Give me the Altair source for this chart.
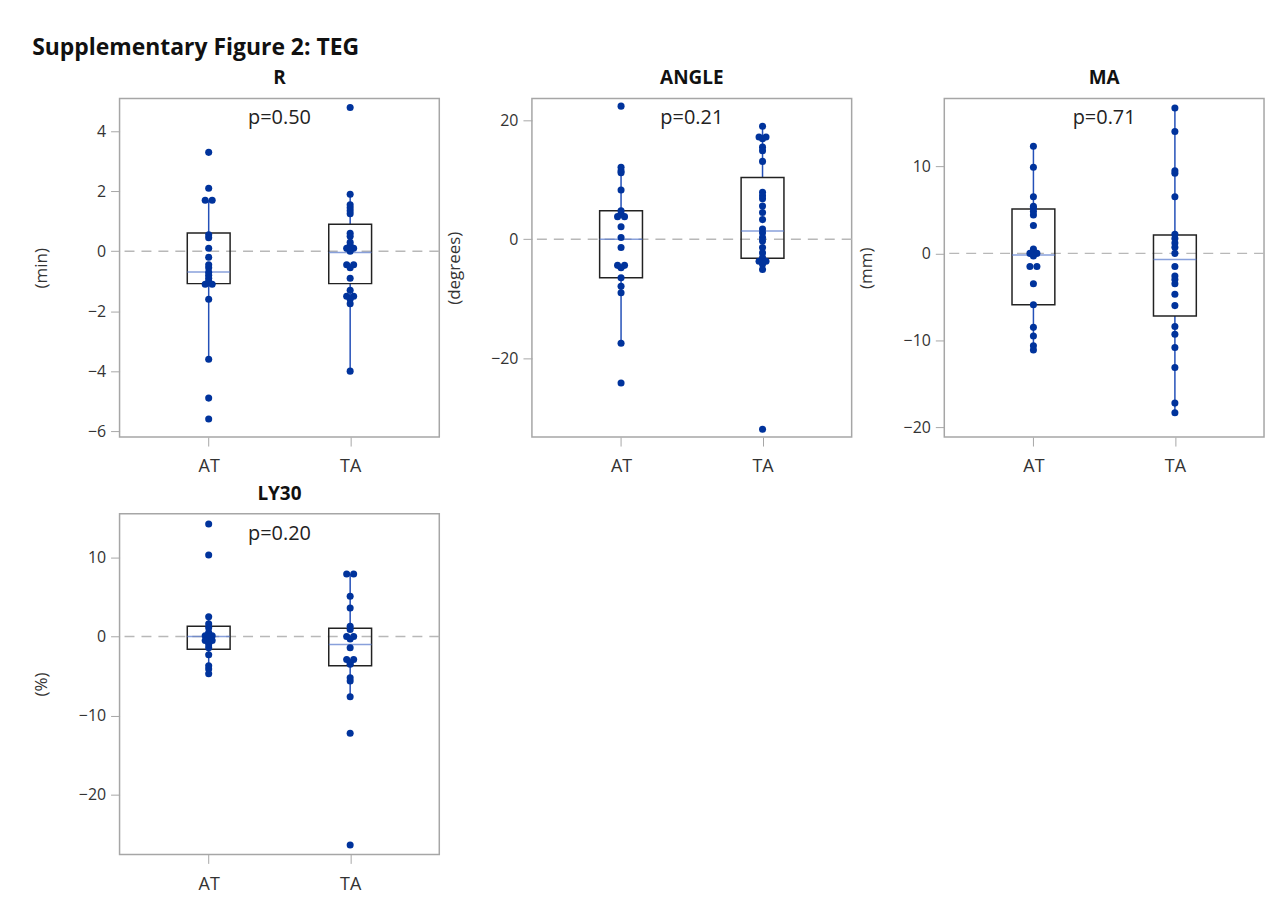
import altair as alt
import pandas as pd

groups = ["AT", "TA"]

# ---- values ----
R_AT = [3.3, 2.1, 1.7, 1.7, 0.55, 0.45, 0.1, -0.2, -0.45, -0.55, -0.7, -0.8, -0.9, -1.0, -1.05, -1.1, -1.1, -1.6, -3.6, -4.9, -5.6]
R_TA = [4.8, 1.9, 1.55, 1.45, 1.35, 1.25, 0.6, 0.5, 0.3, 0.2, 0.1, 0.1, 0.0, -0.45, -0.45, -0.55, -0.9, -1.3, -1.5, -1.5, -1.6, -1.75, -4.0]
ANGLE_AT = [22.4, 12.1, 11.5, 11.2, 8.3, 4.8, 4.2, 3.8, 3.8, 2.1, 0.3, -1.4, -4.4, -4.4, -4.8, -6.5, -7.9, -9.0, -17.5, -24.2]
ANGLE_TA = [19.0, 17.2, 17.2, 16.9, 15.5, 14.9, 13.1, 7.9, 7.3, 6.8, 5.6, 4.5, 3.3, 1.7, 1.1, 0.3, -0.3, -1.4, -2.3, -3.1, -3.7, -3.7, -4.2, -5.1, -32.0]
MA_AT = [12.3, 9.9, 6.5, 5.4, 5.2, 4.8, 4.4, 3.2, 0.5, 0.2, 0.0, 0.0, -0.3, -1.5, -1.5, -3.5, -5.9, -8.5, -9.5, -10.6, -11.1]
MA_TA = [16.7, 14.0, 9.5, 9.2, 6.5, 2.2, 1.7, 1.2, 0.7, 0.0, -1.5, -2.6, -3.0, -3.5, -4.7, -6.0, -8.4, -9.3, -10.8, -13.1, -17.2, -18.3]
LY30_AT = [14.2, 10.3, 2.5, 1.6, 1.1, 0.5, 0.3, 0.1, 0.1, -0.1, -0.3, -0.5, -0.5, -1.0, -1.4, -2.3, -3.7, -4.1, -4.7]
LY30_TA = [7.9, 7.9, 5.1, 3.6, 1.3, 0.9, 0.0, 0.0, -0.3, -1.4, -2.9, -2.9, -3.3, -3.5, -5.2, -5.6, -7.6, -12.2, -26.3]

# box statistics per group: q1, median, q3, whisker low, whisker high
R_BOX = {"AT": [-1.08, -0.69, 0.61, -3.6, 1.7], "TA": [-1.08, -0.04, 0.9, -3.94, 1.92]}
ANGLE_BOX = {"AT": [-6.5, 0.0, 4.8, -17.5, 12.1], "TA": [-3.2, 1.4, 10.4, -5.1, 19.0]}
MA_BOX = {"AT": [-5.9, -0.2, 5.1, -11.1, 12.3], "TA": [-7.2, -0.7, 2.1, -18.3, 16.7]}
LY30_BOX = {"AT": [-1.6, 0.0, 1.3, -4.7, 2.5], "TA": [-3.7, -1.0, 1.05, -7.6, 7.9]}

P_VALUES = {"R": "p=0.50", "ANGLE": "p=0.21", "MA": "p=0.71", "LY30": "p=0.20"}
UNITS = {"R": "(min)", "ANGLE": "(degrees)", "MA": "(mm)", "LY30": "(%)"}
Y_TICKS = {"R": [4, 2, 0, -2, -4, -6], "ANGLE": [20, 0, -20], "MA": [10, 0, -10, -20], "LY30": [10, 0, -10, -20]}
Y_DOMAIN = {"R": [-6.2, 5.1], "ANGLE": [-33.3, 23.7], "MA": [-21.1, 17.8], "LY30": [-27.5, 15.5]}

W = 321
FONT = "Open Sans"
PT_COLOR = "#00339c"
WHISK_COLOR = "#2450b8"
MED_COLOR = "#5577cc"


def points_frame(at, ta):
    rows = []
    for g, vals in (("AT", at), ("TA", ta)):
        counts = {}
        for v in vals:
            counts[v] = counts.get(v, 0) + 1
        seen = {}
        for v in vals:
            n = counts[v]
            k = seen.get(v, 0)
            seen[v] = k + 1
            rows.append({"group": g, "value": v, "jit": (k - (n - 1) / 2) * 7})
    return pd.DataFrame(rows)


def box_frame(box):
    return pd.DataFrame([
        {"group": g, "q1": s[0], "med": s[1], "q3": s[2], "lo": s[3], "hi": s[4]}
        for g, s in box.items()
    ])


def panel(name, at, ta, box, H=340):
    pts = points_frame(at, ta)
    bx = box_frame(box)
    yscale = alt.Scale(domain=Y_DOMAIN[name], nice=False, zero=False)
    xscale = alt.Scale(type="point", domain=groups, padding=0.63)
    xenc = alt.X("group:N", scale=xscale,
                 axis=alt.Axis(title=None, labelAngle=0, domain=False, tickColor="#a6a6a6",
                               tickSize=9, labelFontSize=18, labelColor="#333333",
                               labelFont=FONT, labelPadding=12))
    yaxis = alt.Axis(title=UNITS[name], values=Y_TICKS[name], grid=False, domain=False,
                     tickColor="#a6a6a6", tickSize=9, labelFontSize=16, labelColor="#333333",
                     labelFont=FONT, titleFont=FONT, titleFontSize=17, titleFontWeight="normal",
                     titleColor="#333333", titleX=-78, titleY=H / 2, titleAngle=-90,
                     titleAlign="center", titleBaseline="middle", labelPadding=5)

    zero = alt.Chart(pd.DataFrame({"z": [0]})).mark_rule(
        strokeDash=[10, 7], color="#b8b8b8", strokeWidth=1.5
    ).encode(y=alt.Y("z:Q", scale=yscale, axis=yaxis))

    box_base = alt.Chart(bx).encode(x=xenc)
    whisk_hi = box_base.mark_rule(color=WHISK_COLOR, strokeWidth=1.5).encode(
        y=alt.Y("q3:Q", scale=yscale), y2="hi:Q")
    whisk_lo = box_base.mark_rule(color=WHISK_COLOR, strokeWidth=1.5).encode(
        y=alt.Y("lo:Q", scale=yscale), y2="q1:Q")
    boxes = box_base.mark_bar(size=43, fill="white", fillOpacity=0, stroke="#222222",
                              strokeWidth=1.5).encode(
        y=alt.Y("q1:Q", scale=yscale), y2="q3:Q")
    med = box_base.mark_tick(size=43, thickness=1.5, color=MED_COLOR).encode(
        y=alt.Y("med:Q", scale=yscale))

    dots = alt.Chart(pts).mark_circle(size=50, color=PT_COLOR, opacity=1).encode(
        x=xenc,
        xOffset=alt.XOffset("jit:Q", scale=None),
        y=alt.Y("value:Q", scale=yscale),
    )

    ptxt = alt.Chart(pd.DataFrame({"t": [P_VALUES[name]]})).mark_text(
        font=FONT, fontSize=20, color="#222222", align="center", baseline="middle"
    ).encode(text="t:N", x=alt.value(W / 2), y=alt.value(20))

    return alt.layer(zero, whisk_hi, whisk_lo, boxes, med, dots, ptxt).properties(
        width=W, height=H,
        title=alt.TitleParams(name, fontSize=19, fontWeight="bold", font=FONT,
                              color="#111111", offset=10),
    )


chart = alt.concat(
    panel("R", R_AT, R_TA, R_BOX),
    panel("ANGLE", ANGLE_AT, ANGLE_TA, ANGLE_BOX),
    panel("MA", MA_AT, MA_TA, MA_BOX),
    panel("LY30", LY30_AT, LY30_TA, LY30_BOX, H=342),
    columns=3, spacing={"row": 77, "column": 93}, bounds="flush",
).properties(
    title=alt.TitleParams("Supplementary Figure 2: TEG", anchor="start", fontSize=23,
                          fontWeight="bold", font=FONT, color="#111111", offset=9),
    padding={"left": 24, "top": 27, "right": 5, "bottom": 5},
).configure_view(stroke="#a6a6a6", strokeWidth=1.5)

chart.save("out.html", embed_options={"renderer": "svg", "actions": False})
